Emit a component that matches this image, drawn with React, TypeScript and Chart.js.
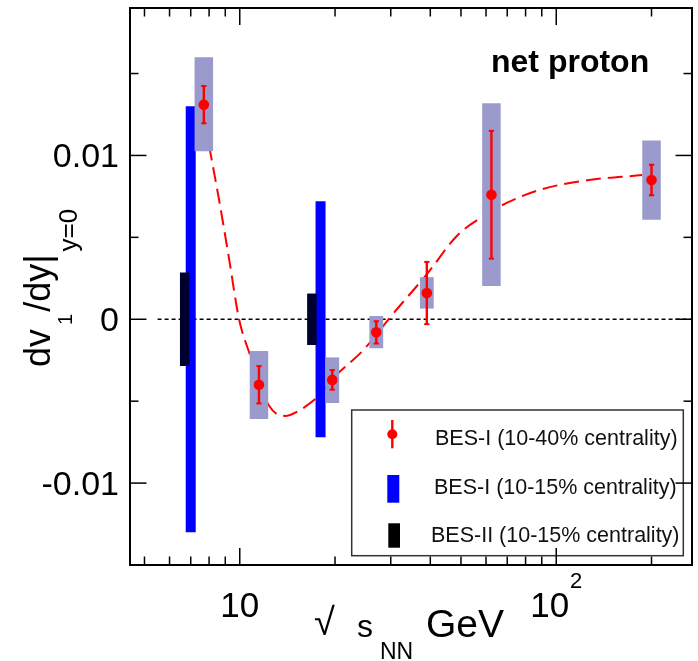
import { useEffect, useRef } from 'react';
import { Chart, registerables } from 'chart.js';

Chart.register(...registerables);

// ---------------- data ----------------
const energies = [7.7, 11.5, 19.6, 27, 39, 62.4, 200];
const v1Slope = [0.0131, -0.0040, -0.0037, -0.0008, 0.0016, 0.0076, 0.0085];
const statError = [0.00114, 0.00114, 0.0006, 0.00068, 0.0019, 0.0039, 0.00093];
const sysLow = [0.01026, -0.00609, -0.00511, -0.00177, 0.00065, 0.00203, 0.00607];
const sysHigh = [0.016, -0.00193, -0.00233, 0.0002, 0.00257, 0.01319, 0.01091];

const bes1CentralEnergies = [7.0, 18.0];
const bes1CentralHalfRange = [0.013, 0.0072];
const bes2CentralEnergies = [6.7, 16.9];
const bes2CentralHalfRange = [0.00285, 0.00157];

const curveEnergies = [8.0, 8.6, 9.26, 9.95, 10.7, 12.4, 13.9, 15.3, 17.7, 19.5, 24.8, 30.1, 39.2, 48.6, 58.9, 69.7, 88.6, 127, 187];
const curveValues = [0.0106, 0.0073, 0.00365, 0.0, -0.002, -0.0053, -0.0059, -0.0056, -0.0047, -0.0037, -0.0018, 0.0002, 0.0028, 0.0051, 0.0063, 0.0071, 0.0079, 0.0085, 0.0088];

const zeroLineEnergies = [5.5, 270];
const zeroLineValues = [0, 0];

const xMajorTicks = [10, 100];
const xMinorTicks = [5, 6, 7, 8, 9, 20, 30, 40, 50, 60, 70, 80, 90, 200];
const xTickBase = ['10', '10'];
const xTickExp = ['', '2'];
const yMajorTicks = [-0.01, 0, 0.01];
const yMinorTicks = [-0.005, 0.005, 0.015];
const yTickLabels = ['-0.01', '0', '0.01'];

const legendLabels = ['BES-I (10-40% centrality)', 'BES-I (10-15% centrality)', 'BES-II (10-15% centrality)'];
const annotationText = 'net proton';

// ---------------- style ----------------
const X_MIN = 4.5;
const X_MAX = 268.5;
const Y_MIN = -0.015;
const Y_MAX = 0.019;
const narrowBox = [false, false, true, true, true, false, false];
const RED = '#ff0000';
const BOX = '#9a9acc';
const BLUE = '#0000ff';
const DARK = '#00002e';
const FAMILY = '"Liberation Sans", Arial, Helvetica, sans-serif';
const font = (size: number, bold = false) => `${bold ? 'bold ' : ''}${size}px ${FAMILY}`;

const hiddenLogAxis = () => ({
  type: 'logarithmic' as const,
  min: X_MIN,
  max: X_MAX,
  display: false,
  bounds: 'data' as const,
});

const decorPlugin = {
  id: 'decor',
  afterDraw(chart: any) {
    const { ctx, chartArea: a } = chart;
    const xs = chart.scales.x;
    const ys = chart.scales.y;
    ctx.save();

    // legend
    ctx.strokeStyle = '#333';
    ctx.lineWidth = 1.5;
    ctx.strokeRect(351.7, 410, 331.6, 145.7);
    ctx.fillStyle = RED;
    ctx.fillRect(391.1, 420, 2.4, 28.3);
    ctx.beginPath();
    ctx.arc(392.3, 434.3, 5, 0, Math.PI * 2);
    ctx.fill();
    ctx.fillStyle = BLUE;
    ctx.fillRect(387.3, 475, 12, 27.7);
    ctx.fillStyle = '#000';
    ctx.fillRect(388.3, 523.3, 11.7, 24.4);
    ctx.fillStyle = '#111';
    ctx.font = font(21.5);
    ctx.textAlign = 'left';
    ctx.textBaseline = 'alphabetic';
    ctx.fillText(legendLabels[0], 435, 445);
    ctx.fillText(legendLabels[1], 434, 493.5);
    ctx.fillText(legendLabels[2], 431, 541.7);

    // ticks (inward, all four sides)
    ctx.strokeStyle = '#000';
    ctx.lineWidth = 1.5;
    const line = (x1: number, y1: number, x2: number, y2: number) => {
      ctx.beginPath();
      ctx.moveTo(x1, y1);
      ctx.lineTo(x2, y2);
      ctx.stroke();
    };
    const xt = (vals: number[], len: number) => {
      for (const v of vals) {
        const px = xs.getPixelForValue(v);
        line(px, a.bottom, px, a.bottom - len);
        line(px, a.top, px, a.top + len);
      }
    };
    const yt = (vals: number[], len: number) => {
      for (const v of vals) {
        const py = ys.getPixelForValue(v);
        line(a.left, py, a.left + len, py);
        line(a.right, py, a.right - len, py);
      }
    };
    xt(xMajorTicks, 17);
    xt(xMinorTicks, 8.5);
    yt(yMajorTicks, 16.5);
    yt(yMinorTicks, 8.5);

    // frame
    ctx.lineWidth = 2;
    ctx.strokeRect(a.left, a.top, a.right - a.left, a.bottom - a.top);

    // y tick labels
    ctx.fillStyle = '#000';
    ctx.font = font(34);
    ctx.textAlign = 'right';
    yMajorTicks.forEach((v, i) => {
      ctx.fillText(yTickLabels[i], a.left - 11, ys.getPixelForValue(v) + 12);
    });

    // x tick labels
    ctx.textAlign = 'left';
    xMajorTicks.forEach((v, i) => {
      const px = xs.getPixelForValue(v);
      ctx.font = font(35);
      const wb = ctx.measureText(xTickBase[i]).width;
      ctx.font = font(22);
      const we = xTickExp[i] ? ctx.measureText(xTickExp[i]).width + 1 : 0;
      const start = px - (wb + we) / 2;
      ctx.font = font(35);
      ctx.fillText(xTickBase[i], start, 617);
      if (xTickExp[i]) {
        ctx.font = font(22);
        ctx.fillText(xTickExp[i], start + wb + 1, 588);
      }
    });

    // x title: √ s_NN GeV
    ctx.font = font(38);
    ctx.fillText('\u221A', 314, 635);
    ctx.font = font(32);
    ctx.fillText('s', 357, 637);
    ctx.font = font(23);
    ctx.fillText('NN', 380, 659);
    ctx.font = font(39);
    ctx.fillText('GeV', 426, 637);

    // y title: dv1/dy|y=0 (rotated)
    ctx.save();
    ctx.translate(50, 367);
    ctx.rotate(-Math.PI / 2);
    let x = 0;
    ctx.font = font(36);
    ctx.fillText('dv', x, 0);
    x += ctx.measureText('dv').width + 4;
    ctx.font = font(20);
    ctx.fillText('1', x, 22);
    x += ctx.measureText('1').width + 2;
    ctx.font = font(36);
    ctx.fillText('/dy|', x, 0);
    x += ctx.measureText('/dy|').width + 3;
    ctx.font = font(26);
    ctx.fillText('y=0', x, 27);
    ctx.restore();

    // annotation
    ctx.font = font(32, true);
    ctx.fillStyle = '#000';
    ctx.fillText(annotationText, 491, 72);

    ctx.restore();
  },
};

export default function App() {
  const ref = useRef<HTMLCanvasElement>(null);

  useEffect(() => {
    document.body.style.margin = '0';
    const pts = energies.map((e, i) => ({ x: e, y: v1Slope[i] }));
    const caps = energies.flatMap((e, i) => [
      { x: e, y: v1Slope[i] + statError[i] },
      { x: e, y: v1Slope[i] - statError[i] },
    ]);
    const errBars = energies.map((e, i) => ({ x: e, y: [v1Slope[i] - statError[i], v1Slope[i] + statError[i]] }));
    const boxes = energies.map((e, i) => ({ x: e, y: [sysLow[i], sysHigh[i]] }));
    const wideBoxes = boxes.filter((_, i) => !narrowBox[i]);
    const narrowBoxes = boxes.filter((_, i) => narrowBox[i]);
    const blueBars = bes1CentralEnergies.map((e, i) => ({ x: e, y: [-bes1CentralHalfRange[i], bes1CentralHalfRange[i]] }));
    const darkBars = bes2CentralEnergies.map((e, i) => ({ x: e, y: [-bes2CentralHalfRange[i], bes2CentralHalfRange[i]] }));
    const curve = curveEnergies.map((e, i) => ({ x: e, y: curveValues[i] }));
    const zero = zeroLineEnergies.map((e, i) => ({ x: e, y: zeroLineValues[i] }));

    // ungrouped bars sit exactly at their x value; width is capped by maxBarThickness
    const bar = (width: number) => ({
      borderWidth: 0,
      borderSkipped: false as const,
      yAxisID: 'y',
      grouped: false,
      barPercentage: 100,
      categoryPercentage: 1,
      maxBarThickness: width,
    });

    const chart = new Chart(ref.current as HTMLCanvasElement, {
      type: 'scatter',
      data: {
        datasets: [
          {
            type: 'scatter', label: 'points', data: pts, xAxisID: 'x', yAxisID: 'y', order: 1,
            pointRadius: 5.3, pointBackgroundColor: RED, pointBorderColor: RED, pointBorderWidth: 0,
          },
          {
            type: 'scatter', label: 'caps', data: caps, xAxisID: 'x', yAxisID: 'y', order: 2,
            pointStyle: 'line', pointRadius: 2.6, pointBorderColor: RED, pointBorderWidth: 2,
          },
          {
            type: 'bar', label: 'stat', data: errBars as any, xAxisID: 'xe', order: 3,
            backgroundColor: RED, ...bar(2.4),
          },
          {
            type: 'bar', label: 'sys wide', data: wideBoxes as any, xAxisID: 'xw', order: 4,
            backgroundColor: BOX, ...bar(18.5),
          },
          {
            type: 'bar', label: 'sys narrow', data: narrowBoxes as any, xAxisID: 'xn', order: 4,
            backgroundColor: BOX, ...bar(13.8),
          },
          {
            type: 'bar', label: legendLabels[2], data: darkBars as any, xAxisID: 'xk', order: 5,
            backgroundColor: DARK, ...bar(9.5),
          },
          {
            type: 'bar', label: legendLabels[1], data: blueBars as any, xAxisID: 'xb', order: 6,
            backgroundColor: BLUE, ...bar(10),
          },
          {
            type: 'line', label: 'curve', data: curve, xAxisID: 'x', yAxisID: 'y', order: 7,
            borderColor: RED, borderWidth: 2, borderDash: [15, 7], pointRadius: 0,
            cubicInterpolationMode: 'monotone', fill: false,
          },
          {
            type: 'line', label: 'zero', data: zero, xAxisID: 'x', yAxisID: 'y', order: 8,
            borderColor: '#000', borderWidth: 1.5, borderDash: [4, 3], pointRadius: 0, fill: false,
          },
        ] as any,
      },
      options: {
        responsive: false,
        animation: false,
        devicePixelRatio: 1,
        layout: { padding: { left: 130, top: 8, right: 1, bottom: 96 } },
        scales: {
          x: hiddenLogAxis(),
          xe: hiddenLogAxis(),
          xw: hiddenLogAxis(),
          xn: hiddenLogAxis(),
          xk: hiddenLogAxis(),
          xb: hiddenLogAxis(),
          y: { type: 'linear', min: Y_MIN, max: Y_MAX, display: false, stacked: false, bounds: 'data' },
        } as any,
        plugins: {
          legend: { display: false },
          tooltip: { enabled: false },
        },
      },
      plugins: [decorPlugin],
    });
    return () => chart.destroy();
  }, []);

  return (
    <div style={{ width: 698, height: 661 }}>
      <canvas ref={ref} width={698} height={661} style={{ display: 'block' }} />
    </div>
  );
}
